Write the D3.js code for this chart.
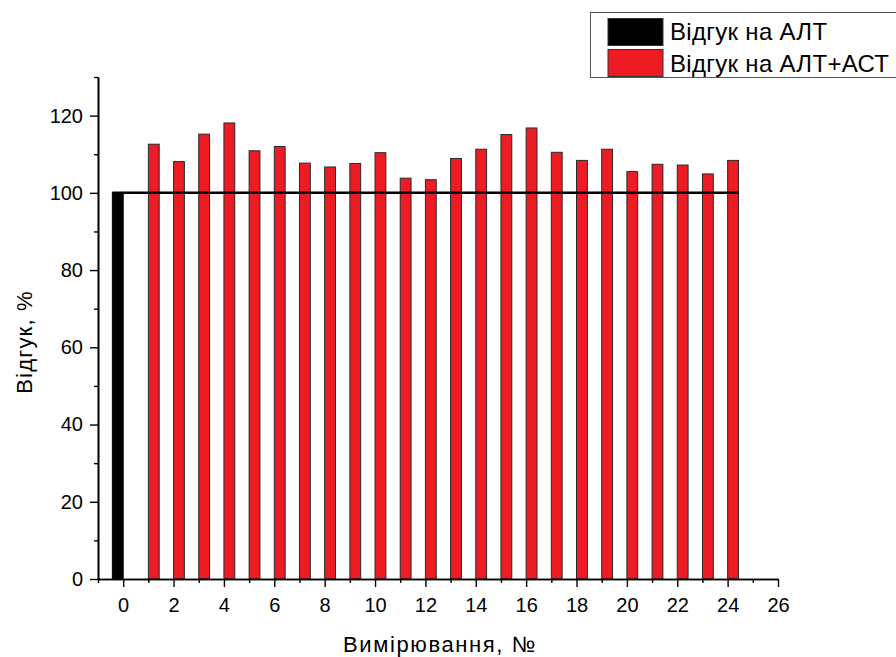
<!DOCTYPE html>
<html>
<head>
<meta charset="utf-8">
<script src="https://cdn.jsdelivr.net/npm/d3@7"></script>
<style>
  html, body { margin: 0; padding: 0; background: #fff; }
  svg { display: block; font-family: "Liberation Sans", Arial, sans-serif; }
</style>
</head>
<body>
<svg id="chart" width="896" height="657"></svg>
<script>
// Response to ALT (baseline measurement)
const altMeasure = [0];
const altValues = [100];

// Response to ALT+AST, measurements 1..24
const mixMeasure = [1, 2, 3, 4, 5, 6, 7, 8, 9, 10, 11, 12, 13, 14, 15, 16, 17, 18, 19, 20, 21, 22, 23, 24];
const mixValues = [112.6, 108.1, 115.2, 118.1, 110.9, 112.0, 107.7, 106.7, 107.6, 110.4, 103.8, 103.4,
                   108.9, 111.3, 115.1, 116.8, 110.5, 108.4, 111.3, 105.5, 107.4, 107.2, 104.9, 108.4];

const referenceLevel = 100;

const xTicks = [0, 2, 4, 6, 8, 10, 12, 14, 16, 18, 20, 22, 24, 26];
const yTicks = [0, 20, 40, 60, 80, 100, 120];
const legendLabels = ["Відгук на АЛТ", "Відгук на АЛТ+АСТ"];
const xTitle = "Вимірювання, №";
const yTitle = "Відгук, %";

const colors = { alt: "#000000", mix: "#ed1c24" };

const svg = d3.select("#chart");
const x = d3.scaleLinear().domain([-1, 26]).range([98, 778]);
const y = d3.scaleLinear().domain([0, 130]).range([579, 77]);
const barW = 0.43; // bar width in x units

// Bars: ALT series sits left of its position, ALT+AST right of it
svg.append("g").selectAll("rect")
  .data(altMeasure.map((m, i) => ({ m, v: altValues[i] })))
  .join("rect")
  .attr("x", d => x(d.m - barW))
  .attr("width", d => x(d.m) - x(d.m - barW))
  .attr("y", d => y(d.v))
  .attr("height", d => y(0) - y(d.v))
  .attr("fill", colors.alt)
  .attr("stroke", "#000")
  .attr("stroke-width", 1);

svg.append("g").selectAll("rect")
  .data(mixMeasure.map((m, i) => ({ m, v: mixValues[i] })))
  .join("rect")
  .attr("x", d => x(d.m))
  .attr("width", d => x(d.m + barW) - x(d.m))
  .attr("y", d => y(d.v))
  .attr("height", d => y(0) - y(d.v))
  .attr("fill", colors.mix)
  .attr("stroke", "#2a2a2a")
  .attr("stroke-width", 1);

// Reference level line across all bars
svg.append("line")
  .attr("x1", x(altMeasure[0] - barW))
  .attr("x2", x(mixMeasure[mixMeasure.length - 1] + barW))
  .attr("y1", y(referenceLevel))
  .attr("y2", y(referenceLevel))
  .attr("stroke", "#000")
  .attr("stroke-width", 2.5);

// Axes
const xAxis = d3.axisBottom(x).tickValues(xTicks).tickSize(8).tickSizeOuter(0).tickPadding(11);
const xMinor = d3.axisBottom(x).tickValues(d3.range(-1, 27, 2)).tickSize(4).tickSizeOuter(0).tickFormat("");
const yAxis = d3.axisLeft(y).tickValues(yTicks).tickSize(8).tickSizeOuter(0).tickPadding(7);
const yMinor = d3.axisLeft(y).tickValues([10, 30, 50, 70, 90, 110, 130]).tickSize(4).tickSizeOuter(0).tickFormat("");

function styleAxis(g) {
  g.select(".domain").attr("stroke", "#000").attr("stroke-width", 1.6);
  g.selectAll(".tick line").attr("stroke", "#000").attr("stroke-width", 1.4);
  g.selectAll(".tick text").attr("fill", "#000").style("font-size", "20px")
    .style("font-family", "'Liberation Sans', Arial, sans-serif");
}

svg.append("g").attr("transform", `translate(0,${y(0)})`).call(xMinor).call(styleAxis);
svg.append("g").attr("transform", `translate(0,${y(0)})`).call(xAxis).call(styleAxis);
svg.append("g").attr("transform", `translate(${x(-1)},0)`).call(yMinor).call(styleAxis);
svg.append("g").attr("transform", `translate(${x(-1)},0)`).call(yAxis).call(styleAxis);

// Axis titles
svg.append("text")
  .attr("x", 440).attr("y", 652)
  .attr("text-anchor", "middle")
  .style("font-size", "22px")
  .style("letter-spacing", "1.6px")
  .text(xTitle);

svg.append("text")
  .attr("transform", `translate(32,342) rotate(-90)`)
  .attr("text-anchor", "middle")
  .style("font-size", "22px")
  .style("letter-spacing", "1.2px")
  .text(yTitle);

// Legend
const legend = svg.append("g");
legend.append("rect")
  .attr("x", 590.5).attr("y", 12.5)
  .attr("width", 320).attr("height", 65)
  .attr("fill", "#fff").attr("stroke", "#555").attr("stroke-width", 1);

const legendColors = [colors.alt, colors.mix];
legendLabels.forEach((label, i) => {
  legend.append("rect")
    .attr("x", 608).attr("y", 18.5 + i * 31)
    .attr("width", 55).attr("height", 27)
    .attr("fill", legendColors[i])
    .attr("stroke", "#333").attr("stroke-width", 1);
  legend.append("text")
    .attr("x", 670).attr("y", 40 + i * 32)
    .style("font-size", "24px")
    .style("letter-spacing", "0.3px")
    .text(label);
});
</script>
</body>
</html>
